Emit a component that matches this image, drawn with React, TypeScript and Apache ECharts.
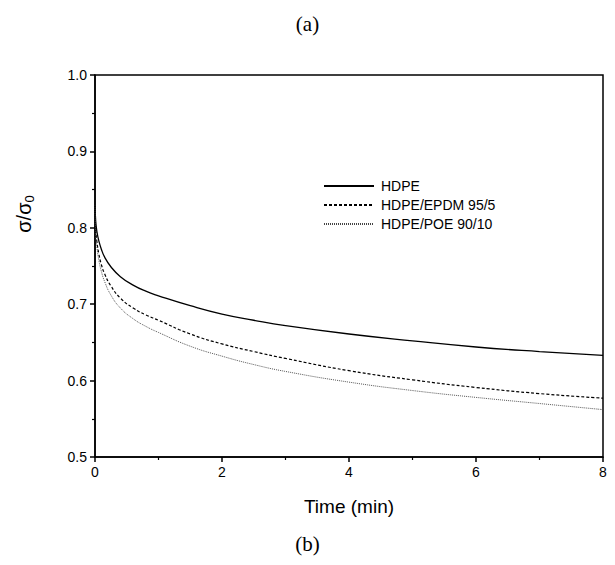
import React, { useEffect, useRef } from "react";
import * as echarts from "echarts";

const timeMin = [0, 0.01, 0.03, 0.06, 0.1, 0.15, 0.25, 0.4, 0.6, 0.8, 1, 1.5, 2, 2.5, 3, 4, 5, 6, 7, 8];
const hdpe = [0.83, 0.81, 0.795, 0.783, 0.772, 0.762, 0.749, 0.736, 0.725, 0.717, 0.711, 0.698, 0.687, 0.679, 0.672, 0.661, 0.652, 0.644, 0.638, 0.633];
const hdpeEpdm = [0.83, 0.8, 0.782, 0.766, 0.752, 0.74, 0.724, 0.708, 0.695, 0.686, 0.679, 0.661, 0.648, 0.638, 0.629, 0.613, 0.601, 0.591, 0.583, 0.577];
const hdpePoe = [0.83, 0.795, 0.775, 0.758, 0.743, 0.73, 0.712, 0.695, 0.681, 0.671, 0.663, 0.645, 0.632, 0.621, 0.612, 0.598, 0.587, 0.578, 0.57, 0.562];
const seriesNames = ["HDPE", "HDPE/EPDM 95/5", "HDPE/POE 90/10"];

const SANS = "'Liberation Sans', Arial, sans-serif";
const SERIF = "'Liberation Serif', 'Times New Roman', serif";

export default function App() {
  const ref = useRef<HTMLDivElement>(null);
  useEffect(() => {
    if (!ref.current) return;
    const chart = echarts.init(ref.current, undefined, { renderer: "svg" });
    const pairs = (ys: number[]) => timeMin.map((t, i) => [t, ys[i]]);
    chart.setOption({
      animation: false,
      backgroundColor: "#fff",
      grid: { left: 95, right: 12, top: 75, bottom: 108, show: true, borderColor: "#000", borderWidth: 1.5 },
      title: [
        { text: "(a)", left: "center", top: 8, textStyle: { fontFamily: SERIF, fontSize: 21, fontWeight: "normal", color: "#000" } },
        { text: "(b)", left: "center", top: 528, textStyle: { fontFamily: SERIF, fontSize: 21, fontWeight: "normal", color: "#000" } },
      ],
      graphic: [
        {
          type: "text",
          x: 24,
          y: 214,
          rotation: Math.PI / 2,
          style: {
            text: "{a|σ/σ}{s|0}",
            align: "center",
            verticalAlign: "middle",
            rich: {
              a: { fontFamily: SANS, fontSize: 20, fill: "#000", lineHeight: 24 },
              s: { fontFamily: SANS, fontSize: 13, fill: "#000", lineHeight: 24, verticalAlign: "bottom", padding: [12, 0, 0, 0] },
            },
          },
        },
      ],
      legend: {
        orient: "vertical",
        left: 318,
        top: 174,
        itemWidth: 50,
        itemHeight: 10,
        itemGap: 5,
        data: seriesNames,
        itemStyle: { opacity: 0 },
        textStyle: { fontFamily: SANS, fontSize: 14, color: "#000", padding: [0, 0, 0, 2] },
      },
      xAxis: {
        type: "value",
        min: 0,
        max: 8,
        interval: 2,
        name: "Time (min)",
        nameLocation: "middle",
        nameGap: 40,
        nameTextStyle: { fontFamily: SANS, fontSize: 19, color: "#000" },
        axisLine: { show: true, onZero: false, lineStyle: { color: "#000", width: 1.5 } },
        axisTick: { show: true, length: 5, lineStyle: { color: "#000", width: 1.5 } },
        minorTick: { show: true, splitNumber: 2, length: 3, lineStyle: { color: "#000", width: 1.2 } },
        axisLabel: { fontFamily: SANS, fontSize: 14, color: "#000", margin: 8 },
        splitLine: { show: false },
      },
      yAxis: {
        type: "value",
        min: 0.5,
        max: 1.0,
        interval: 0.1,
        axisLine: { show: true, onZero: false, lineStyle: { color: "#000", width: 1.5 } },
        axisTick: { show: true, length: 5, lineStyle: { color: "#000", width: 1.5 } },
        minorTick: { show: true, splitNumber: 2, length: 3, lineStyle: { color: "#000", width: 1.2 } },
        axisLabel: { fontFamily: SANS, fontSize: 14, color: "#000", margin: 8, formatter: (v: number) => v.toFixed(1) },
        splitLine: { show: false },
      },
      series: [
        {
          name: seriesNames[0], type: "line", data: pairs(hdpe), symbol: "none", smooth: true,
          lineStyle: { color: "#000", width: 1.3, type: "solid" }, itemStyle: { color: "#000" },
        },
        {
          name: seriesNames[1], type: "line", data: pairs(hdpeEpdm), symbol: "none", smooth: true,
          lineStyle: { color: "#000", width: 1.2, type: [3, 2] }, itemStyle: { color: "#000" },
        },
        {
          name: seriesNames[2], type: "line", data: pairs(hdpePoe), symbol: "none", smooth: true,
          lineStyle: { color: "#444", width: 0.9, type: [1, 1] }, itemStyle: { color: "#444" },
        },
      ],
    });
    return () => chart.dispose();
  }, []);
  return <div ref={ref} style={{ width: 615, height: 565, margin: -8 }} />;
}
